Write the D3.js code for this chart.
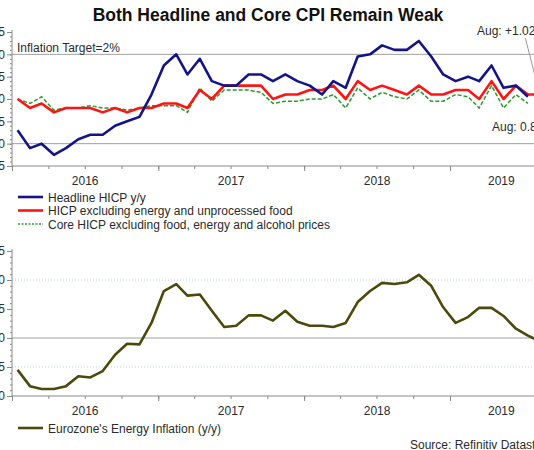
<!DOCTYPE html>
<html>
<head>
<meta charset="utf-8">
<script src="https://cdn.jsdelivr.net/npm/d3@7"></script>
<style>
  body { margin: 0; background: #fff; }
  svg { display: block; overflow: hidden; font-family: "Liberation Sans", Arial, sans-serif; }
</style>
</head>
<body>
<svg id="chart" width="534" height="450"></svg>
<script>
// monthly observations, Jan 2016 .. Jul 2019 (plotted mid-month)
const months = d3.timeMonth.range(new Date(2016, 0, 1), new Date(2019, 8, 1)).map(d => new Date(d.getFullYear(), d.getMonth(), 15));

const headline = [0.3, -0.1, 0.0, -0.25, -0.1, 0.1, 0.2, 0.2, 0.4, 0.5, 0.6, 1.1,
                  1.75, 2.0, 1.55, 1.9, 1.4, 1.3, 1.3, 1.55, 1.55, 1.4, 1.55, 1.4,
                  1.3, 1.1, 1.4, 1.25, 1.95, 2.0, 2.2, 2.1, 2.1, 2.3, 1.95, 1.55,
                  1.4, 1.5, 1.4, 1.75, 1.25, 1.3, 1.05];
const exEnergyFood = [1.0, 0.8, 0.9, 0.7, 0.8, 0.8, 0.8, 0.7, 0.8, 0.7, 0.8, 0.8,
                      0.9, 0.9, 0.8, 1.2, 1.0, 1.3, 1.3, 1.3, 1.3, 1.0, 1.1, 1.1,
                      1.2, 1.2, 1.3, 1.0, 1.4, 1.2, 1.3, 1.2, 1.1, 1.3, 1.1, 1.1,
                      1.2, 1.2, 1.0, 1.4, 1.0, 1.3, 1.1, 1.1];
const core = [1.0, 0.9, 1.05, 0.75, 0.8, 0.8, 0.85, 0.8, 0.8, 0.75, 0.8, 0.85,
              0.85, 0.85, 0.7, 1.25, 0.95, 1.2, 1.2, 1.2, 1.15, 0.9, 0.95, 0.95,
              1.0, 1.0, 1.1, 0.8, 1.25, 1.0, 1.15, 1.05, 1.0, 1.2, 0.95, 0.95,
              1.1, 1.05, 0.8, 1.3, 0.8, 1.1, 0.9];
const energy = [-5.5, -8.3, -8.8, -8.8, -8.3, -6.6, -6.8, -5.7, -2.9, -1.0, -1.1, 2.6,
                8.1, 9.3, 7.3, 7.5, 4.7, 1.9, 2.1, 3.9, 3.9, 3.0, 4.7, 2.8,
                2.1, 2.1, 1.9, 2.6, 6.2, 8.1, 9.5, 9.3, 9.6, 10.9, 9.0, 5.3,
                2.6, 3.6, 5.2, 5.2, 3.8, 1.6, 0.4, -0.6];

const cpiTicks = [-0.5, 0, 0.5, 1, 1.5, 2, 2.5];
const energyTicks = [-10, -5, 0, 5, 10, 15];
const years = [2016, 2017, 2018, 2019];

const svg = d3.select("#chart");
const axisColor = "#8a8a8a";
const textColor = "#2b2b2b";

const x = d3.scaleTime()
  .domain([new Date(2016, 0, 1), new Date(2019, 0, 1)])
  .range([12, 450]);

const yTop = d3.scaleLinear().domain([-0.5, 2.5]).range([166, 32]);
const yBot = d3.scaleLinear().domain([-10, 15]).range([396, 251]);

svg.append("text")
  .attr("x", 268).attr("y", 21)
  .attr("text-anchor", "middle")
  .style("font-size", "17.5px").style("font-weight", "bold")
  .attr("fill", "#111")
  .text("Both Headline and Core CPI Remain Weak");

function panel(y, ticks, minorStep, fmt, solid, dotted) {
  const g = svg.append("g");
  const [y0, y1] = y.range();

  // reference lines
  g.selectAll(".solid").data(solid).join("line")
    .attr("x1", 12).attr("x2", 534)
    .attr("y1", d => y(d)).attr("y2", d => y(d))
    .attr("stroke", "#a0a0a0").attr("stroke-width", 1);
  g.selectAll(".dot").data(dotted).join("line")
    .attr("x1", 12).attr("x2", 534)
    .attr("y1", d => y(d)).attr("y2", d => y(d))
    .attr("stroke", "#b8d4dc").attr("stroke-width", 1).attr("stroke-dasharray", "1,2");

  // y axis
  const minor = d3.range(y.domain()[0], y.domain()[1] + minorStep / 2, minorStep);
  const yMinor = g.append("g").attr("transform", "translate(12,0)")
    .call(d3.axisLeft(y).tickValues(minor).tickSize(2).tickFormat(""));
  const yMajor = g.append("g").attr("transform", "translate(12,0)")
    .call(d3.axisLeft(y).tickValues(ticks).tickSize(5).tickPadding(2).tickFormat(fmt));
  yMajor.selectAll("text").style("font-size", "12px").attr("fill", textColor);

  // x axis
  const xMinor = g.append("g").attr("transform", `translate(0,${y0})`)
    .call(d3.axisBottom(x).ticks(d3.timeMonth.every(3)).tickSize(3).tickFormat(""));
  const xMajor = g.append("g").attr("transform", `translate(0,${y0})`)
    .call(d3.axisBottom(x).ticks(d3.timeYear.every(1)).tickSize(5).tickFormat(""));
  xMajor.select(".domain").attr("d", `M12,0H534`);
  xMinor.select(".domain").remove();

  [yMinor, yMajor, xMinor, xMajor].forEach(a => {
    a.selectAll("line").attr("stroke", axisColor);
    a.selectAll(".domain").attr("stroke", axisColor);
  });
  yMinor.select(".domain").remove();
  yMajor.select(".domain").attr("d", `M0,${y1 - 2}V${y0}`);

  g.selectAll(".yr").data(years).join("text")
    .attr("x", d => (x(new Date(d, 0, 1)) + x(d === 2019 ? new Date(2019, 8, 15) : new Date(d + 1, 0, 1))) / 2)
    .attr("y", y0 + 19)
    .attr("text-anchor", "middle")
    .style("font-size", "12px").attr("fill", textColor)
    .text(d => d);
  return g;
}

const fmtTop = d => d3.format(".1f")(d);
const fmtBot = d => d3.format("d")(d);

const topPanel = panel(yTop, cpiTicks, 0.1, fmtTop, [0, 2], []);
const botPanel = panel(yBot, energyTicks, 1, fmtBot, [0], [10, -5]);

const line = (y) => d3.line().x((d, i) => x(i < months.length ? months[i] : new Date(2019, 7, 15))).y(d => y(d));

topPanel.append("path").datum(core)
  .attr("fill", "none").attr("stroke", "#2a9a2a").attr("stroke-width", 1.5)
  .attr("stroke-dasharray", "4,2").attr("d", line(yTop));
topPanel.append("path").datum(exEnergyFood)
  .attr("fill", "none").attr("stroke", "#ff1414").attr("stroke-width", 2.6)
  .attr("stroke-linejoin", "round").attr("d", line(yTop));
topPanel.append("path").datum(headline)
  .attr("fill", "none").attr("stroke", "#141488").attr("stroke-width", 2.6)
  .attr("stroke-linejoin", "round").attr("d", line(yTop));

botPanel.append("path").datum(energy)
  .attr("fill", "none").attr("stroke", "#4a4a0c").attr("stroke-width", 2.6)
  .attr("stroke-linejoin", "round").attr("d", line(yBot));

// annotations
topPanel.append("text").attr("x", 17).attr("y", 52)
  .style("font-size", "12px").attr("fill", textColor).text("Inflation Target=2%");

const lastX = x(months[months.length - 1]);
const lastH = yTop(headline[headline.length - 1]);
const lastC = yTop(core[core.length - 1]);
topPanel.append("line").attr("x1", lastX - 15).attr("y1", 38).attr("x2", lastX - 2).attr("y2", lastH - 8)
  .attr("stroke", "#999").attr("stroke-width", 1);
topPanel.append("line").attr("x1", lastX - 1).attr("y1", lastC + 3).attr("x2", lastX - 3).attr("y2", lastC + 14)
  .attr("stroke", "#999").attr("stroke-width", 1);
topPanel.append("text").attr("x", 477).attr("y", 35)
  .style("font-size", "12px").attr("fill", textColor).text("Aug: +1.02");
topPanel.append("text").attr("x", 492).attr("y", 131)
  .style("font-size", "12px").attr("fill", textColor).text("Aug: 0.88");

// legends
const legTop = [
  { name: "Headline HICP y/y", color: "#141488", dash: null, w: 2.6 },
  { name: "HICP excluding energy and unprocessed food", color: "#ff1414", dash: null, w: 2.6 },
  { name: "Core HICP excluding food, energy and alcohol prices", color: "#2a9a2a", dash: "2,1.5", w: 1.5 }
];
const lg = svg.append("g").selectAll("g").data(legTop).join("g")
  .attr("transform", (d, i) => `translate(0,${197 + i * 13.5})`);
lg.append("line").attr("x1", 18).attr("x2", 43)
  .attr("stroke", d => d.color).attr("stroke-width", d => d.w)
  .attr("stroke-dasharray", d => d.dash);
lg.append("text").attr("x", 48).attr("y", 4.5)
  .style("font-size", "12px").attr("fill", textColor).text(d => d.name);

svg.append("line").attr("x1", 18).attr("x2", 43).attr("y1", 428).attr("y2", 428)
  .attr("stroke", "#4a4a0c").attr("stroke-width", 2.6);
svg.append("text").attr("x", 48).attr("y", 432.5)
  .style("font-size", "12px").attr("fill", textColor).text("Eurozone's Energy Inflation (y/y)");

svg.append("text").attr("x", 410).attr("y", 449)
  .style("font-size", "12px").attr("fill", textColor).text("Source: Refinitiv Datastream");
</script>
</body>
</html>
